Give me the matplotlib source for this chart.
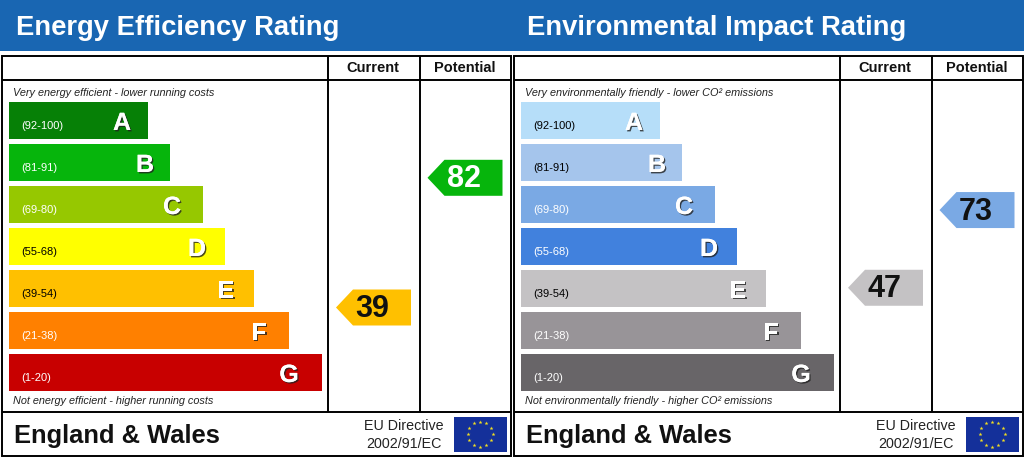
import numpy as np
import matplotlib
matplotlib.use("Agg")
import matplotlib.pyplot as plt
import matplotlib.patheffects as pe
from matplotlib.patches import Rectangle, Polygon

plt.rcParams['font.family'] = ['Liberation Sans', 'DejaVu Sans']

# ---- data ----
letters = ["A", "B", "C", "D", "E", "F", "G"]
bands = ["(92-100)", "(81-91)", "(69-80)", "(55-68)", "(39-54)", "(21-38)", "(1-20)"]
band_high = [100, 91, 80, 68, 54, 38, 20]
band_low = [92, 81, 69, 55, 39, 21, 1]
bar_lengths = [139, 161, 194, 216, 245, 280, 313]

titles = ["Energy Efficiency Rating", "Environmental Impact Rating"]
top_notes = ["Very energy efficient - lower running costs",
             "Very environmentally friendly - lower CO² emissions"]
bottom_notes = ["Not energy efficient - higher running costs",
                "Not environmentally friendly - higher CO² emissions"]
current = [39, 47]
potential = [82, 73]
energy_colors = ["#068006", "#06b50c", "#96c800", "#ffff00", "#ffc000", "#ff8000", "#c80000"]
impact_colors = ["#b6def9", "#a5c5ec", "#7aa9e4", "#4181dd", "#c4c2c4", "#989498", "#686568"]
energy_band_text = ["white", "white", "white", "black", "black", "white", "white"]
impact_band_text = ["black", "black", "white", "white", "black", "white", "white"]
panel_colors = [energy_colors, impact_colors]
panel_band_text = [energy_band_text, impact_band_text]
letter_inset = [26, 25, 31, 28, 28, 30, 33]
number_color = "#111111"

BLUE = "#1966b2"
fig = plt.figure(figsize=(10.24, 4.57), dpi=100, facecolor="white")
ax = fig.add_axes([0, 0, 1, 1])
ax.set_xlim(0, 1024)
ax.set_ylim(457, 0)
ax.axis("off")

ROW0, PITCH, ROWH = 102, 42, 37


def rating_y(v):
    """Centre of a rating pointer: the value placed inside its band's row."""
    for i, (hi, lo) in enumerate(zip(band_high, band_low)):
        if lo <= v <= hi:
            top = ROW0 + i * PITCH
            return np.interp(v, [lo, hi], [top + ROWH, top])
    return ROW0


def pointer(x_tip, v, color, tcolor):
    y = rating_y(v) + 0.5
    ax.add_patch(Polygon([(x_tip, y), (x_tip + 17, y - 18), (x_tip + 75, y - 18),
                          (x_tip + 75, y + 18), (x_tip + 17, y + 18)],
                         closed=True, fc=color, ec="none", zorder=3))
    ax.text(x_tip + 36.5, y + 1.5, str(v), ha="center", va="center", fontsize=22,
            fontweight="bold", color=tcolor, zorder=4)


def band_colour(v, colors):
    for i, (hi, lo) in enumerate(zip(band_high, band_low)):
        if lo <= v <= hi:
            return colors[i]


ax.add_patch(Rectangle((0, 0), 1024, 51, fc=BLUE, ec="none"))

for p in range(2):
    dx = 512 * p
    ax.text(dx + 16 - (1 if p else 0), 28, titles[p], color="white", fontsize=19.7,
            fontweight="bold", ha="left", va="center")
    # frame
    lw = 1.4
    ax.add_patch(Rectangle((dx + 1.5, 56), 509.5, 399.5, fc="white", ec="black", lw=lw, zorder=1))
    for y in (79.5, 411.5):
        ax.plot([dx + 1.5, dx + 511], [y, y], color="black", lw=lw, zorder=2, solid_capstyle="butt")
    for x in (328, 419.5):
        ax.plot([dx + x, dx + x], [56, 411.5], color="black", lw=lw, zorder=2, solid_capstyle="butt")
    ax.text(dx + 373, 67.5, "Current", ha="center", va="center", fontsize=10.5, fontweight="bold", color="#111111")
    ax.text(dx + 465, 67.5, "Potential", ha="center", va="center", fontsize=10.5, fontweight="bold", color="#111111")
    ax.text(dx + 13, 92.5, top_notes[p], ha="left", va="center", fontsize=7.85, style="italic", color="#222222")
    ax.text(dx + 13, 401.5, bottom_notes[p], ha="left", va="center", fontsize=7.85, style="italic", color="#222222")

    for i, length in enumerate(bar_lengths):
        top = ROW0 + i * PITCH
        ax.barh(top + ROWH / 2, length, height=ROWH, left=dx + 9, color=panel_colors[p][i], lw=0, zorder=2)
        ax.text(dx + 21.5, top + ROWH / 2 + 5.5, bands[i], ha="left", va="center", fontsize=8,
                color=panel_band_text[p][i], zorder=3)
        t = ax.text(dx + 9 + length - letter_inset[i], top + ROWH / 2 + 2.5, letters[i], ha="center", va="center",
                    fontsize=18, fontweight="bold", color="white", zorder=4)
        t.set_path_effects([pe.withSimplePatchShadow(offset=(1, -1), shadow_rgbFace="#222222", alpha=0.8),
                            pe.Normal()])

    cur_col = band_colour(current[p], panel_colors[p])
    pot_col = band_colour(potential[p], panel_colors[p])
    pointer(dx + 336, current[p], cur_col, number_color)
    pointer(dx + 427.5, potential[p], pot_col,
            "white" if p == 0 else number_color)

    ax.text(dx + 14, 436.5, "England & Wales", ha="left", va="center", fontsize=18.35, fontweight="bold", color="#111111")
    ax.text(dx + 404, 426, "EU Directive", ha="center", va="center", fontsize=10.3, color="#222222")
    ax.text(dx + 404, 444.5, "2002/91/EC", ha="center", va="center", fontsize=10.3, color="#222222")
    ax.add_patch(Rectangle((dx + 453.5, 416.5), 53, 35, fc="#14309a", ec="none", zorder=3))
    ang = np.linspace(0, 2 * np.pi, 12, endpoint=False)
    ax.scatter(dx + 480 + 12.5 * np.cos(ang), 434 + 12.5 * np.sin(ang), marker="*", s=9,
               color="#f4e020", lw=0, zorder=4)

fig.savefig("out.png", dpi=100, facecolor="white")
